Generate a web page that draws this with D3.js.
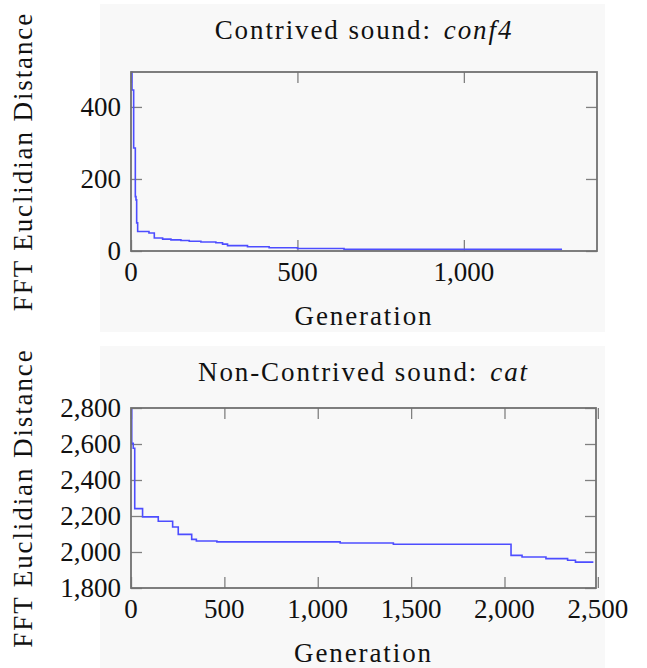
<!DOCTYPE html>
<html>
<head>
<meta charset="utf-8">
<script src="https://cdn.jsdelivr.net/npm/d3@7"></script>
<style>
  html, body { margin: 0; padding: 0; background: #ffffff; }
  svg { display: block; }
  text { font-family: "Liberation Serif", "DejaVu Serif", serif; fill: #111; }
  .wide { letter-spacing: 1.9px; }
</style>
</head>
<body>
<svg id="chart" width="647" height="668"></svg>
<script>
// Best FFT distance found so far, recorded at the generations where it improved.
const conf4Generation = [0, 3, 8, 13, 15, 17, 20, 54, 70, 95, 120, 150, 175, 210, 255, 275, 290, 350, 415, 500, 640, 1295];
const conf4Distance   = [497, 447, 286, 151, 142, 78, 54, 50, 36, 33, 31, 29, 27, 25, 23, 19, 15, 12, 9, 7, 4.5, 4.5];

const catGeneration = [0, 4, 12, 20, 62, 146, 223, 253, 325, 350, 460, 1120, 1405, 2035, 2094, 2222, 2338, 2380, 2476];
const catDistance   = [2790, 2604, 2576, 2241, 2195, 2171, 2139, 2098, 2070, 2061, 2056, 2050, 2043, 1981, 1972, 1963, 1954, 1944, 1944];

const conf4XTicks = [0, 500, 1000];
const conf4YTicks = [0, 200, 400];
const catXTicks = [0, 500, 1000, 1500, 2000, 2500];
const catYTicks = [1800, 2000, 2200, 2400, 2600, 2800];

const svg = d3.select("#chart");
const fmt = d3.format(",");

// pale panel backgrounds
svg.append("rect").attr("x", 100).attr("y", 4).attr("width", 505).attr("height", 328).attr("fill", "#f8f8f8");
svg.append("rect").attr("x", 100).attr("y", 346).attr("width", 505).attr("height", 322).attr("fill", "#f8f8f8");

function panel(opts) {
  const { left, top, width, height, xDomain, yDomain, xTicks, yTicks, gens, dists, title, titleItalic, titleY } = opts;
  const g = svg.append("g").attr("transform", `translate(${left},${top})`);
  const x = d3.scaleLinear().domain(xDomain).range([0, width]);
  const y = d3.scaleLinear().domain(yDomain).range([height, 0]);
  const tickLen = 11;
  const tickColor = "#808080";

  // inward ticks on all four sides
  const styleAxis = sel => {
    sel.select(".domain").remove();
    sel.selectAll(".tick line").attr("stroke", tickColor).attr("stroke-width", 1.3);
    sel.selectAll(".tick text").remove();
  };
  g.append("g").attr("transform", `translate(0,${height})`)
    .call(d3.axisTop(x).tickValues(xTicks).tickSize(tickLen)).call(styleAxis);
  g.append("g")
    .call(d3.axisBottom(x).tickValues(xTicks).tickSize(tickLen)).call(styleAxis);
  g.append("g")
    .call(d3.axisRight(y).tickValues(yTicks).tickSize(tickLen)).call(styleAxis);
  g.append("g").attr("transform", `translate(${width},0)`)
    .call(d3.axisLeft(y).tickValues(yTicks).tickSize(tickLen)).call(styleAxis);

  // tick labels
  g.append("g").selectAll("text").data(xTicks).join("text")
    .attr("x", d => x(d)).attr("y", height + 30)
    .attr("text-anchor", "middle").attr("font-size", 27)
    .text(d => fmt(d));
  g.append("g").selectAll("text").data(yTicks).join("text")
    .attr("x", -10).attr("y", d => y(d) + 9)
    .attr("text-anchor", "end").attr("font-size", 27)
    .text(d => fmt(d));

  // data line
  const pts = gens.map((gv, i) => [gv, dists[i]]);
  g.append("path").datum(pts)
    .attr("fill", "none").attr("stroke", "#4d4dff").attr("stroke-width", 1.6)
    .attr("d", d3.line().x(d => x(d[0])).y(d => y(d[1])).curve(d3.curveStepAfter));

  // frame
  g.append("rect").attr("width", width).attr("height", height)
    .attr("fill", "none").attr("stroke", "#707070").attr("stroke-width", 1.8);

  // axis titles
  g.append("text").attr("class", "wide").attr("x", width / 2).attr("y", height + 74)
    .attr("text-anchor", "middle").attr("font-size", 27).text("Generation");
  g.append("text").attr("class", "wide")
    .attr("transform", `translate(${32 - left},${height / 2}) rotate(-90)`)
    .attr("text-anchor", "middle").attr("font-size", 27).text("FFT Euclidian Distance");

  const t = g.append("text").attr("class", "wide").attr("x", width / 2).attr("y", titleY)
    .attr("text-anchor", "middle").attr("font-size", 27);
  t.append("tspan").text(title);
  t.append("tspan").attr("dx", 12).attr("font-style", "italic").text(titleItalic);
}

panel({
  left: 131, top: 72, width: 466, height: 179,
  xDomain: [0, 1400], yDomain: [0, 497],
  xTicks: conf4XTicks, yTicks: conf4YTicks,
  gens: conf4Generation, dists: conf4Distance,
  title: "Contrived sound:", titleItalic: "conf4", titleY: -33
});

panel({
  left: 131, top: 408, width: 465, height: 180,
  xDomain: [0, 2490], yDomain: [1800, 2800],
  xTicks: catXTicks, yTicks: catYTicks,
  gens: catGeneration, dists: catDistance,
  title: "Non-Contrived sound:", titleItalic: "cat", titleY: -27
});
</script>
</body>
</html>
